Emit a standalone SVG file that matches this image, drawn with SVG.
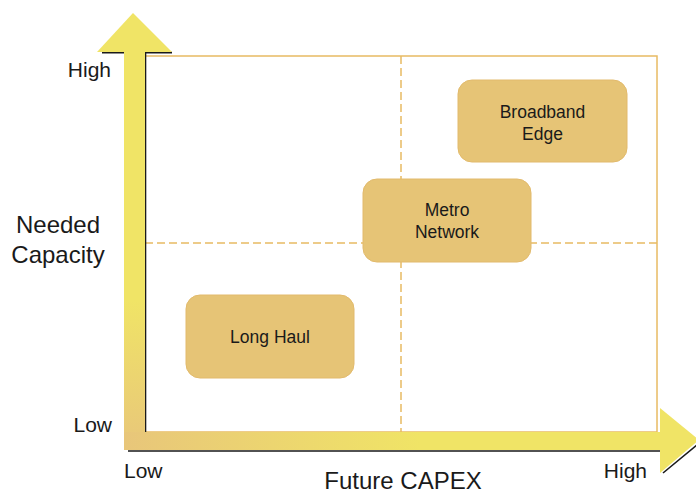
<svg xmlns="http://www.w3.org/2000/svg" width="696" height="493" viewBox="0 0 696 493">
<defs>
<linearGradient id="gh" gradientUnits="userSpaceOnUse" x1="124" y1="0" x2="420" y2="0">
<stop offset="0" stop-color="#E8C67A"/>
<stop offset="1" stop-color="#F0E466"/>
</linearGradient>
<linearGradient id="gv" gradientUnits="userSpaceOnUse" x1="0" y1="450" x2="0" y2="300">
<stop offset="0" stop-color="#E8C67A"/>
<stop offset="1" stop-color="#F0E466"/>
</linearGradient>
<style>
.lbl{font-family:"Liberation Sans",Arial,sans-serif;fill:#1a1a1a}
.ax{font-size:21px}
.big{font-size:24px}
.node rect{fill:#E6C476;stroke:#E2BA6C;stroke-width:1}
.node text{font-family:"Liberation Sans",Arial,sans-serif;font-size:17.5px;fill:#1a1a1a;text-anchor:middle}
.grid{stroke:#E8BB63;stroke-width:1.5;stroke-dasharray:8 4;fill:none}
.shadow{stroke:#1a1a1a;stroke-width:1.6;fill:none}
</style>
</defs>
<rect width="696" height="493" fill="#ffffff"/>
<g id="plot">
<rect x="145" y="56" width="512" height="376" fill="none" stroke="#E8BB63" stroke-width="1.5"/>
<line class="grid" x1="401" y1="56" x2="401" y2="432"/>
<line class="grid" x1="145" y1="243" x2="657" y2="243"/>
</g>
<g id="connectors">
<g id="y-axis">
<path class="shadow" d="M145.5,53 V432 M102,52.6 H172"/>
<rect x="124" y="50" width="21" height="400" fill="url(#gv)"/>
<polygon points="97,52 172,52 133,13" fill="#F0E466"/>
</g>
<g id="x-axis">
<path class="shadow" d="M128,451 H662 M663,473 L697,445"/>
<rect x="124" y="432" width="538" height="18" fill="url(#gh)"/>
<polygon points="660,408 660,473 699,440" fill="#F0E466"/>
</g>
</g>
<g id="broadband-edge" class="node">
<rect x="458" y="80" width="169" height="82" rx="14"/>
<text x="542.5" y="118">Broadband</text>
<text x="542.5" y="140">Edge</text>
</g>
<g id="metro-network" class="node">
<rect x="363" y="179" width="168" height="83" rx="14"/>
<text x="447" y="216">Metro</text>
<text x="447" y="238">Network</text>
</g>
<g id="long-haul" class="node">
<rect x="186" y="295" width="168" height="83" rx="14"/>
<text x="270" y="343">Long Haul</text>
</g>
<g id="labels">
<text class="lbl ax" x="111" y="77" text-anchor="end">High</text>
<text class="lbl ax" x="112" y="432" text-anchor="end">Low</text>
<text class="lbl ax" x="124" y="478">Low</text>
<text class="lbl ax" x="647" y="478" text-anchor="end">High</text>
<text class="lbl big" x="58" y="233" text-anchor="middle">Needed</text>
<text class="lbl big" x="58" y="263" text-anchor="middle">Capacity</text>
<text class="lbl big" x="403" y="489" text-anchor="middle">Future CAPEX</text>
</g>
</svg>
